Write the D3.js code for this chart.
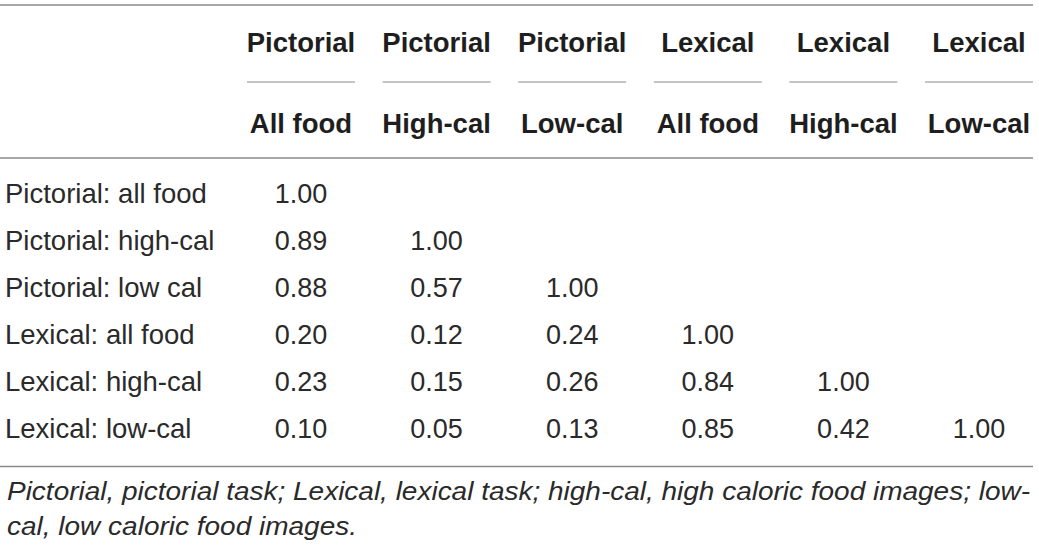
<!DOCTYPE html>
<html>
<head>
<meta charset="utf-8">
<script src="https://cdn.jsdelivr.net/npm/d3@7"></script>
<style>
  html, body { margin: 0; padding: 0; background: #fff; }
  svg { display: block; }
</style>
</head>
<body>
<div id="table"></div>
<script>
// column headers (two lines) and row labels
var colTop = ["Pictorial", "Pictorial", "Pictorial", "Lexical", "Lexical", "Lexical"];
var colBottom = ["All food", "High-cal", "Low-cal", "All food", "High-cal", "Low-cal"];
var rowLabels = ["Pictorial: all food", "Pictorial: high-cal", "Pictorial: low cal",
  "Lexical: all food", "Lexical: high-cal", "Lexical: low-cal"];

// lower triangle of correlations, one array per row
var row1 = [1.00];
var row2 = [0.89, 1.00];
var row3 = [0.88, 0.57, 1.00];
var row4 = [0.20, 0.12, 0.24, 1.00];
var row5 = [0.23, 0.15, 0.26, 0.84, 1.00];
var row6 = [0.10, 0.05, 0.13, 0.85, 0.42, 1.00];

var footLines = ["Pictorial, pictorial task; Lexical, lexical task; high-cal, high caloric food images; low-",
  "cal, low caloric food images."];

var w = 1039;
var h = 552;

var svg = d3.select("#table")
  .append("svg")
  .attr("width", w)
  .attr("height", h);

var font = "'Liberation Sans', Arial, Helvetica, sans-serif";

var x = d3.scalePoint()
  .domain(d3.range(colTop.length))
  .range([301, 979]);

var y = d3.scalePoint()
  .domain(rowLabels)
  .range([203, 438]);

var rows = [row1, row2, row3, row4, row5, row6];

// horizontal rules
function rule(x1, x2, yy, color, width) {
  svg.append("line")
    .attr("x1", x1).attr("x2", x2)
    .attr("y1", yy).attr("y2", yy)
    .attr("stroke", color)
    .attr("stroke-width", width);
}

rule(0, 1033, 5, "#8a8a8a", 1.5);
rule(0, 1033, 158, "#8a8a8a", 1.5);
rule(0, 1033, 466.5, "#8a8a8a", 1.5);

// header text
var head = svg.append("g");
head.selectAll("text.top")
  .data(colTop)
  .enter().append("text")
  .attr("class", "top")
  .attr("x", function(d, i) { return x(i); })
  .attr("y", 52)
  .attr("text-anchor", "middle")
  .attr("font-family", font)
  .attr("font-weight", "bold")
  .attr("font-size", 27.5)
  .attr("fill", "#1e1e1e")
  .text(function(d) { return d; });

head.selectAll("text.bottom")
  .data(colBottom)
  .enter().append("text")
  .attr("class", "bottom")
  .attr("x", function(d, i) { return x(i); })
  .attr("y", 133)
  .attr("text-anchor", "middle")
  .attr("font-family", font)
  .attr("font-weight", "bold")
  .attr("font-size", 27.5)
  .attr("fill", "#1e1e1e")
  .text(function(d) { return d; });

// short rules under the top header line
head.selectAll("line.span")
  .data(colTop)
  .enter().append("line")
  .attr("class", "span")
  .attr("x1", function(d, i) { return x(i) - 54; })
  .attr("x2", function(d, i) { return x(i) + 54; })
  .attr("y1", 82).attr("y2", 82)
  .attr("stroke", "#8a8a8a")
  .attr("stroke-width", 1.2);

// row labels
svg.selectAll("text.rowlabel")
  .data(rowLabels)
  .enter().append("text")
  .attr("class", "rowlabel")
  .attr("x", 5)
  .attr("y", function(d) { return y(d); })
  .attr("font-family", font)
  .attr("font-size", 27.5)
  .attr("fill", "#2a2a2a")
  .text(function(d) { return d; });

// cells
rows.forEach(function(vals, r) {
  svg.selectAll("text.cell" + r)
    .data(vals)
    .enter().append("text")
    .attr("class", "cell" + r)
    .attr("x", function(d, i) { return x(i); })
    .attr("y", y(rowLabels[r]))
    .attr("text-anchor", "middle")
    .attr("font-family", font)
    .attr("font-size", 27)
    .attr("fill", "#2a2a2a")
    .text(function(d) { return d3.format(".2f")(d); });
});

// footnote, stretched to the wider original face
var footWidth = [1023, 350];
svg.selectAll("text.foot")
  .data(footLines)
  .enter().append("text")
  .attr("class", "foot")
  .attr("x", 7)
  .attr("y", function(d, i) { return 500 + i * 35; })
  .attr("font-family", font)
  .attr("font-style", "italic")
  .attr("font-size", 25)
  .attr("fill", "#2a2a2a")
  .attr("textLength", function(d, i) { return footWidth[i]; })
  .attr("lengthAdjust", "spacingAndGlyphs")
  .text(function(d) { return d; });
</script>
</body>
</html>
